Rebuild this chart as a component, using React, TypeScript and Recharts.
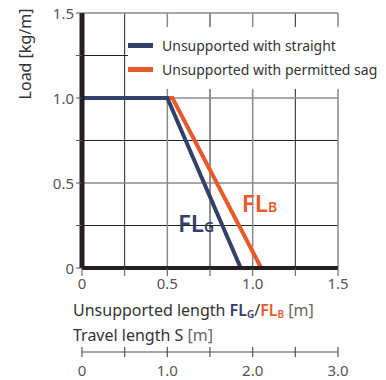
import React from "react";
import { LineChart, Line, XAxis, YAxis, Legend, ReferenceLine, ReferenceDot } from "recharts";

// Values
const straightLength = [0, 0.5, 0.93];
const straightLoad = [1, 1, 0];
const sagLength = [0, 0.53, 1.05];
const sagLoad = [1, 1, 0];
const edgeLength = [0, 0];
const edgeLoad = [0, 1];

const seriesNames = ["Unsupported with straight", "Unsupported with permitted sag"];
const seriesColors = ["#33416a", "#e8592b"];

const lengthTicks = [0, 0.25, 0.5, 0.75, 1, 1.25, 1.5];
const loadTicks = [0, 0.25, 0.5, 0.75, 1, 1.25, 1.5];
const travelTicks = [0, 0.5, 1, 1.5, 2, 2.5, 3];
const majorGrid = [0.5, 1, 1.5];
const minorGrid = [0.25, 0.75, 1.25];

const FONT = "'Noto Sans', sans-serif";
const TICK_COLOR = "#555";
const TEXT_COLOR = "#333";

const toPoints = (xs: number[], ys: number[]) => xs.map((x, i) => ({ x, y: ys[i] }));

const fmt = (v: number) => (v === 0 ? "0" : v.toFixed(1));

// only label every 0.5
const HalfTick = (props: any) => {
  const { x, y, payload, textAnchor } = props;
  const v = payload.value;
  if (Math.abs(v * 2 - Math.round(v * 2)) > 1e-6) return null;
  return (
    <text x={x} y={y} textAnchor={textAnchor} dominantBaseline="central" fill={TICK_COLOR} fontSize={15} fontFamily={FONT}>
      {fmt(v)}
    </text>
  );
};

const BottomTick = (props: any) => {
  const { x, y, payload } = props;
  const v = payload.value;
  if (Math.abs(v * 2 - Math.round(v * 2)) > 1e-6) return null;
  return (
    <text x={x} y={y + 11} textAnchor="middle" fill={TICK_COLOR} fontSize={15} fontFamily={FONT}>
      {fmt(v)}
    </text>
  );
};

// travel axis: tick crosses the line, labels on whole metres
const TravelTick = (props: any) => {
  const { x, y, payload } = props;
  const v = payload.value;
  const top = y - 8;
  return (
    <g>
      <line x1={x} x2={x} y1={top - 5} y2={top + 5} stroke={TICK_COLOR} strokeWidth={1.2} />
      {Number.isInteger(v) && (
        <text x={x} y={top + 24} textAnchor="middle" fill={TICK_COLOR} fontSize={15} fontFamily={FONT}>
          {fmt(v)}
        </text>
      )}
    </g>
  );
};

const LegendBox = () => (
  <div style={{ background: "#fff", padding: "6px 0 8px 0", width: 258, fontFamily: FONT }}>
    {seriesNames.map((name, i) => (
      <div key={name} style={{ display: "flex", alignItems: "center", height: 24 }}>
        <span style={{ display: "inline-block", width: 25, height: 5, background: seriesColors[i], marginRight: 9 }} />
        <span style={{ fontSize: 14, color: TEXT_COLOR }}>{name}</span>
      </div>
    ))}
  </div>
);

const FlLabel = ({ viewBox, sub, color }: any) => (
  <text x={viewBox.x} y={viewBox.y} textAnchor="middle" dominantBaseline="central" fill={color} fontFamily={FONT} fontWeight={600}>
    <tspan fontSize={24}>FL</tspan>
    <tspan fontSize={14} dy={4}>{sub}</tspan>
  </text>
);

const LengthLabel = ({ viewBox }: any) => (
  <g fontFamily={FONT} fill={TEXT_COLOR}>
    <text x={viewBox.x - 9} y={viewBox.y + 48} fontSize={16}>
      <tspan>Unsupported length </tspan>
      <tspan fill={seriesColors[0]} fontWeight={600}>FL</tspan>
      <tspan fill={seriesColors[0]} fontWeight={600} fontSize={10} dy={2}>G</tspan>
      <tspan dy={-2}>/</tspan>
      <tspan fill={seriesColors[1]} fontWeight={600}>FL</tspan>
      <tspan fill={seriesColors[1]} fontWeight={600} fontSize={10} dy={2}>B</tspan>
      <tspan dy={-2} fill="#666"> [m]</tspan>
    </text>
    <text x={viewBox.x - 9} y={viewBox.y + 73} fontSize={16}>
      <tspan>Travel length S</tspan>
      <tspan fill="#666"> [m]</tspan>
    </text>
  </g>
);

const LoadLabel = ({ viewBox }: any) => {
  const cx = viewBox.x + 25;
  const cy = viewBox.y + 41;
  return (
    <text x={cx} y={cy} transform={`rotate(-90 ${cx} ${cy})`} textAnchor="middle" dominantBaseline="central" fontSize={16} fill={TEXT_COLOR} fontFamily={FONT}>
      Load [kg/m]
    </text>
  );
};

export default function App() {
  return (
    <div style={{ position: "absolute", left: 0, top: 0, background: "#fff" }}>
      <LineChart width={386} height={380} margin={{ top: 13, right: 48, bottom: 0, left: 0 }}>
        <XAxis
          xAxisId="len"
          type="number"
          dataKey="x"
          domain={[0, 1.5]}
          ticks={lengthTicks}
          allowDataOverflow
          height={84}
          axisLine={{ stroke: "#231f20", strokeWidth: 4 }}
          tickLine={{ stroke: TICK_COLOR }}
          tickSize={8}
          tick={<BottomTick />}
          label={<LengthLabel />}
        />
        <XAxis
          xAxisId="travel"
          type="number"
          dataKey="x"
          domain={[0, 3]}
          ticks={travelTicks}
          allowDataOverflow
          interval={0}
          height={28}
          axisLine={{ stroke: TICK_COLOR, strokeWidth: 1.2 }}
          tickLine={false}
          tickSize={6}
          tickMargin={2}
          tick={<TravelTick />}
        />
        <YAxis
          type="number"
          domain={[0, 1.5]}
          ticks={loadTicks}
          width={82}
          axisLine={{ stroke: "#231f20", strokeWidth: 5 }}
          tickLine={{ stroke: TICK_COLOR }}
          tickSize={6}
          tick={<HalfTick />}
          label={<LoadLabel />}
        />
        {minorGrid.map((v) => (
          <ReferenceLine key={`hm${v}`} xAxisId="len" y={v} stroke="#222" strokeWidth={1} />
        ))}
        {minorGrid.map((v) => (
          <ReferenceLine key={`vm${v}`} xAxisId="len" x={v} stroke="#222" strokeWidth={1} />
        ))}
        {majorGrid.map((v) => (
          <ReferenceLine key={`hM${v}`} xAxisId="len" y={v} stroke="#8a8a8a" strokeWidth={1.5} />
        ))}
        {majorGrid.map((v) => (
          <ReferenceLine key={`vM${v}`} xAxisId="len" x={v} stroke="#8a8a8a" strokeWidth={1.5} />
        ))}
        <Line
          xAxisId="len"
          data={toPoints(edgeLength, edgeLoad)}
          dataKey="y"
          stroke="#d9837d"
          strokeWidth={1.2}
          dot={false}
          legendType="none"
          isAnimationActive={false}
        />
        <Line
          xAxisId="len"
          data={toPoints(sagLength, sagLoad)}
          dataKey="y"
          name={seriesNames[1]}
          stroke={seriesColors[1]}
          strokeWidth={4}
          dot={false}
          isAnimationActive={false}
        />
        <Line
          xAxisId="len"
          data={toPoints(straightLength, straightLoad)}
          dataKey="y"
          name={seriesNames[0]}
          stroke={seriesColors[0]}
          strokeWidth={4}
          dot={false}
          isAnimationActive={false}
        />
        <ReferenceDot xAxisId="len" x={0.668} y={0.27} r={0} fill="none" stroke="none" label={<FlLabel sub="G" color={seriesColors[0]} />} />
        <ReferenceDot xAxisId="len" x={1.04} y={0.39} r={0} fill="none" stroke="none" label={<FlLabel sub="B" color={seriesColors[1]} />} />
        <Legend
          layout="vertical"
          align="center"
          verticalAlign="middle"
          wrapperStyle={{ top: 27, left: 128, width: 258 }}
          content={<LegendBox />}
        />
      </LineChart>
    </div>
  );
}
